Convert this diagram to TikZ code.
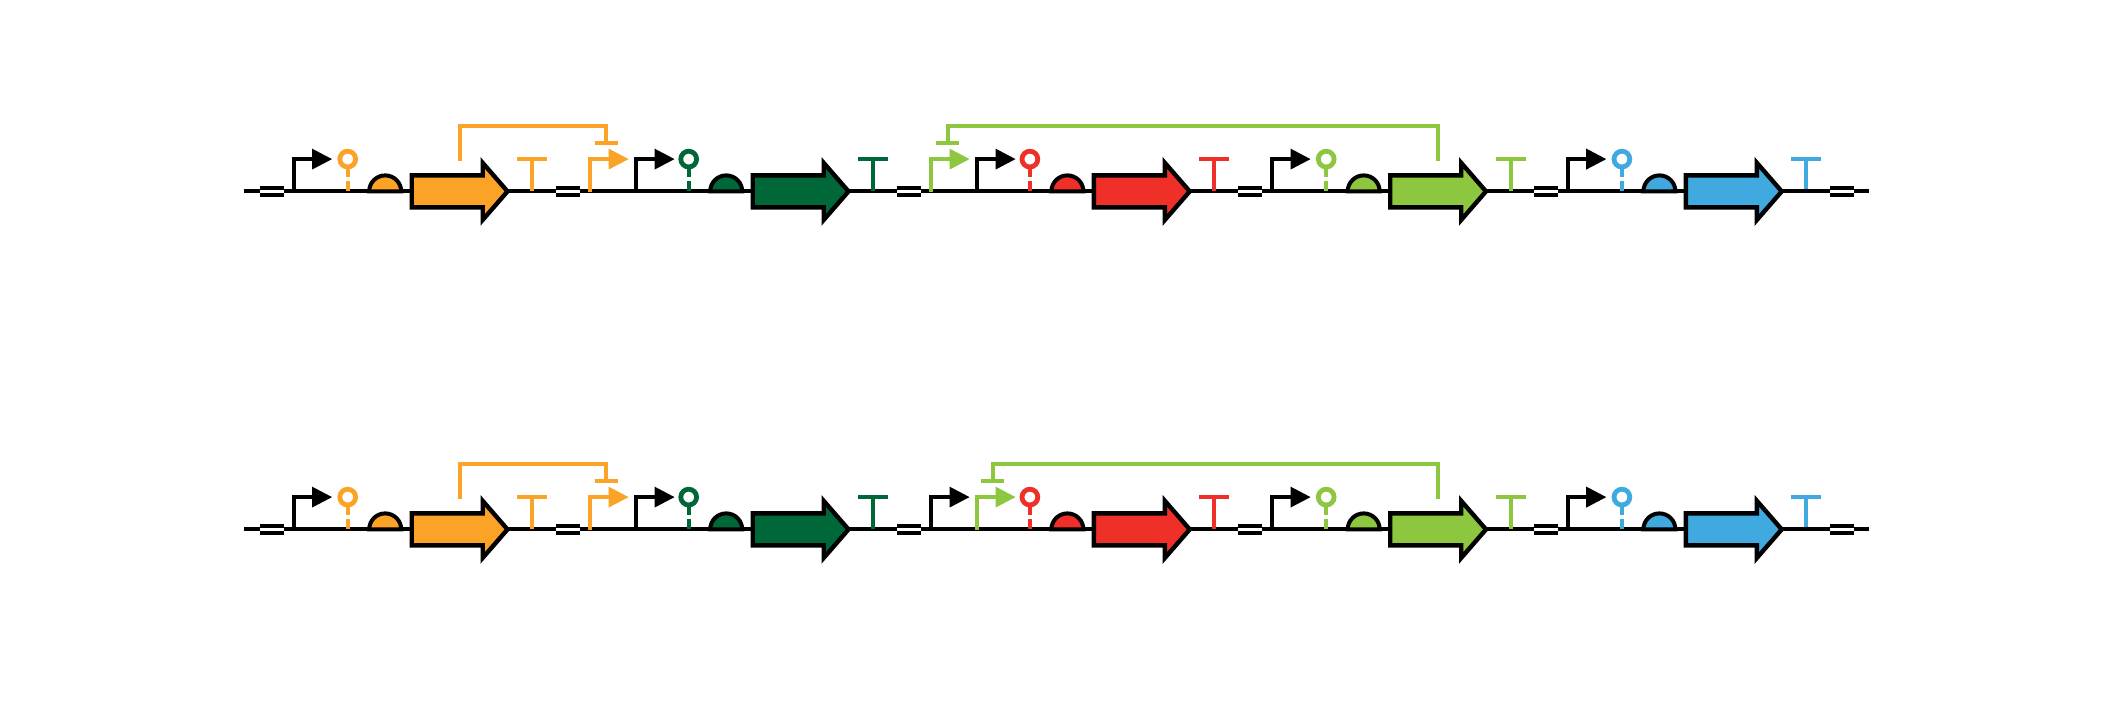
\documentclass[tikz,border=0pt]{standalone}
\usetikzlibrary{calc}
\definecolor{corange}{HTML}{FBA326}
\definecolor{cdgreen}{HTML}{006838}
\definecolor{cred}{HTML}{EF3029}
\definecolor{clgreen}{HTML}{8DC63F}
\definecolor{cblue}{HTML}{3FA9E0}
\tikzset{
  wire/.style={line width=3pt,line cap=butt,line join=miter,miter limit=10},
  backbone/.style={wire,black},
  cdsshape/.style={line width=3.3pt,draw=black,line join=miter,miter limit=10},
}
% promoter: x, baseline y, colour
\newcommand{\promo}[3]{%
  \begin{scope}[shift={(#1,#2)}]
    \draw[wire,draw=#3] (0,1) -- (0,-32.3) -- (19,-32.3);
    \fill[#3] (18.5,-42.8) -- (38.5,-32.3) -- (18.5,-21.8) -- cycle;
  \end{scope}}
% gene block: promoter-origin x, baseline y, colour
\newcommand{\genemod}[3]{%
  \begin{scope}[shift={(#1,#2)}]
    % aptamer
    \draw[line width=3.6pt,draw=#3] (54.2,-32.3) circle (7.9);
    \draw[wire,draw=#3] (54.2,-24) -- (54.2,-14);
    \draw[wire,draw=#3] (54.2,-10) -- (54.2,0);
    % terminator
    \draw[wire,draw=#3] (238.5,0) -- (238.5,-32.3);
    \draw[wire,draw=#3] (223.5,-32.3) -- (253.5,-32.3);
    % RBS
    \filldraw[wire,fill=#3,draw=black] (75.7,0) arc[start angle=180,end angle=360,radius=16] -- cycle;
    % CDS
    \filldraw[cdsshape,fill=#3] (118.2,-16) -- (189.2,-16) -- (189.2,-28.5) -- (214,0)
       -- (189.2,28.5) -- (189.2,16) -- (118.2,16) -- cycle;
  \end{scope}}
% spacer: left x, baseline y
\newcommand{\spcr}[2]{%
  \begin{scope}[shift={(#1,#2)}]
    \fill[white] (0,-3.4) rectangle (23.5,3.4);
    \draw[line width=2.6pt,black] (0,-3.6) -- (23.5,-3.6) (0,3.6) -- (23.5,3.6);
  \end{scope}}
% repression arc: source x, bar x, baseline y, colour, name
\newcommand{\repress}[5]{%
  \coordinate (#5s) at (#1,#3-30);
  \coordinate (#5t) at (#2,#3-48.3);
  \draw[wire,draw=#4] (#5s) |- ($(#5t)+(0,-16.7)$) -- (#5t);
  \draw[wire,draw=#4] ($(#5t)+(-11.5,0)$) -- ($(#5t)+(11.5,0)$);}
% whole row: baseline y, x of the green promoter, x of the black promoter, x of the green bar
\newcommand{\genrow}[5]{%
  \draw[backbone] (244,#1) -- (1869,#1);
  \promo{293.5}{#1}{black}
  \promo{590}{#1}{corange}
  \promo{636}{#1}{black}
  \promo{#2}{#1}{clgreen}
  \promo{#3}{#1}{black}
  \promo{1272}{#1}{black}
  \promo{1567.7}{#1}{black}
  \genemod{293.5}{#1}{corange}
  \genemod{634.5}{#1}{cdgreen}
  \genemod{975.7}{#1}{cred}
  \genemod{1272}{#1}{clgreen}
  \genemod{1567.7}{#1}{cblue}
  \draw[backbone] (244,#1) -- (290,#1) (1780,#1) -- (1869,#1);
  \spcr{260}{#1}\spcr{556}{#1}\spcr{897}{#1}\spcr{1238}{#1}\spcr{1534}{#1}\spcr{1830}{#1}
  \repress{460}{606}{#1}{corange}{#5a}
  \repress{1437.7}{#4}{#1}{clgreen}{#5b}}
\begin{document}
\begin{tikzpicture}[x=0.75pt,y=-0.75pt]
  \useasboundingbox (0,0) rectangle (2112,720);
  \fill[white] (0,0) rectangle (2112,720);
  \genrow{191.4}{931}{977}{947.7}{up}
  \genrow{529.4}{977}{931}{992.7}{lo}
\end{tikzpicture}
\end{document}
